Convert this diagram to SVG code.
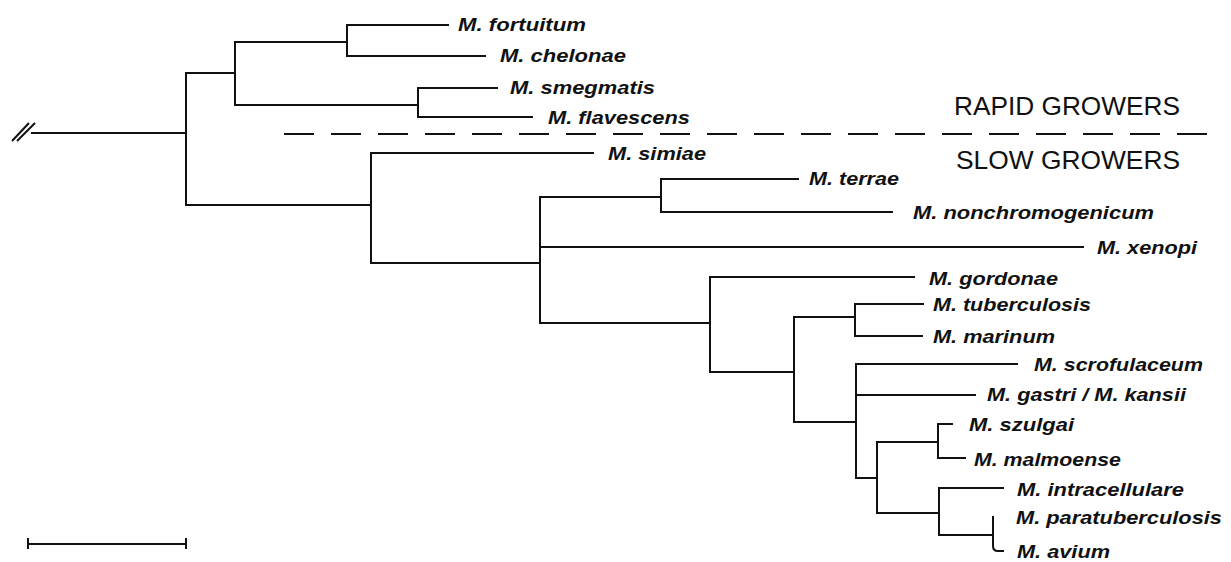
<svg xmlns="http://www.w3.org/2000/svg" width="1231" height="562" viewBox="0 0 1231 562">
<style>
.br{fill:none;stroke:#111;stroke-width:2;stroke-linecap:square;stroke-linejoin:miter}
.lb{font-family:"Liberation Sans",Arial,sans-serif;font-weight:bold;font-style:italic;font-size:18.5px;fill:#111}
.gp{font-family:"Liberation Sans",Arial,sans-serif;font-size:25px;fill:#111}
.dash{fill:none;stroke:#111;stroke-width:2;stroke-dasharray:30 17}
</style>
<rect width="1231" height="562" fill="#fff"/>
<g id="connectors" class="br">
  <!-- root stem with break mark -->
  <path d="M32,133 H186"/>
  <path d="M12,141 L29,123 M17,141 L35,123" stroke-linecap="butt"/>
  <path d="M186,73 V205"/>
  <!-- rapid growers -->
  <path d="M186,73 H235 M235,42 V105"/>
  <path d="M235,42 H347 M347,25 V56 M347,25 H448 M347,56 H485"/>
  <path d="M235,105 H418 M418,88 V117 M418,88 H497 M418,117 H532"/>
  <!-- slow growers -->
  <path d="M186,205 H371 M371,153 V263 M371,153 H593"/>
  <path d="M371,263 H540 M540,197 V323"/>
  <path d="M540,197 H661 M661,179 V212 M661,179 H798 M661,212 H892"/>
  <path d="M540,247 H1083"/>
  <path d="M540,323 H710 M710,277 V372 M710,277 H914"/>
  <path d="M710,372 H794 M794,317 V422"/>
  <path d="M794,317 H855 M855,304 V336 M855,304 H923 M855,336 H922"/>
  <path d="M794,422 H856 M856,364 V478 M856,364 H1017 M856,395 H975"/>
  <path d="M856,478 H877 M877,442 V513"/>
  <path d="M877,442 H938 M938,424 V458 M938,424 H952 M938,458 H965"/>
  <path d="M877,513 H939 M939,488 V535 M939,488 H1003 M939,535 H993"/>
  <path d="M993,517 V546 Q993,551 998,551 H1003"/>
</g>
<g id="scale-bar" class="br">
  <path d="M28,544 H186 M28,538 V549 M186,538 V549" stroke-linecap="butt"/>
</g>
<g id="divider">
  <path class="dash" d="M284,134 H1207"/>
  <text class="gp" x="954" y="115" textLength="226" lengthAdjust="spacingAndGlyphs">RAPID GROWERS</text>
  <text class="gp" x="956" y="169" textLength="224" lengthAdjust="spacingAndGlyphs">SLOW GROWERS</text>
</g>
<g id="n-fortuitum"><text class="lb" x="458" y="31" textLength="128" lengthAdjust="spacingAndGlyphs">M. fortuitum</text></g>
<g id="n-chelonae"><text class="lb" x="500" y="62" textLength="126" lengthAdjust="spacingAndGlyphs">M. chelonae</text></g>
<g id="n-smegmatis"><text class="lb" x="510" y="94" textLength="145" lengthAdjust="spacingAndGlyphs">M. smegmatis</text></g>
<g id="n-flavescens"><text class="lb" x="548" y="124" textLength="142" lengthAdjust="spacingAndGlyphs">M. flavescens</text></g>
<g id="n-simiae"><text class="lb" x="608" y="160" textLength="98" lengthAdjust="spacingAndGlyphs">M. simiae</text></g>
<g id="n-terrae"><text class="lb" x="809" y="185" textLength="90" lengthAdjust="spacingAndGlyphs">M. terrae</text></g>
<g id="n-nonchromogenicum"><text class="lb" x="913" y="219" textLength="241" lengthAdjust="spacingAndGlyphs">M. nonchromogenicum</text></g>
<g id="n-xenopi"><text class="lb" x="1097" y="254" textLength="100" lengthAdjust="spacingAndGlyphs">M. xenopi</text></g>
<g id="n-gordonae"><text class="lb" x="929" y="285" textLength="129" lengthAdjust="spacingAndGlyphs">M. gordonae</text></g>
<g id="n-tuberculosis"><text class="lb" x="933" y="311" textLength="158" lengthAdjust="spacingAndGlyphs">M. tuberculosis</text></g>
<g id="n-marinum"><text class="lb" x="933" y="343" textLength="122" lengthAdjust="spacingAndGlyphs">M. marinum</text></g>
<g id="n-scrofulaceum"><text class="lb" x="1034" y="371" textLength="169" lengthAdjust="spacingAndGlyphs">M. scrofulaceum</text></g>
<g id="n-gastri-kansii"><text class="lb" x="987" y="401" textLength="199" lengthAdjust="spacingAndGlyphs">M. gastri / M. kansii</text></g>
<g id="n-szulgai"><text class="lb" x="969" y="431" textLength="105" lengthAdjust="spacingAndGlyphs">M. szulgai</text></g>
<g id="n-malmoense"><text class="lb" x="974" y="466" textLength="147" lengthAdjust="spacingAndGlyphs">M. malmoense</text></g>
<g id="n-intracellulare"><text class="lb" x="1017" y="496" textLength="167" lengthAdjust="spacingAndGlyphs">M. intracellulare</text></g>
<g id="n-paratuberculosis"><text class="lb" x="1016" y="524" textLength="206" lengthAdjust="spacingAndGlyphs">M. paratuberculosis</text></g>
<g id="n-avium"><text class="lb" x="1017" y="558" textLength="93" lengthAdjust="spacingAndGlyphs">M. avium</text></g>
</svg>
